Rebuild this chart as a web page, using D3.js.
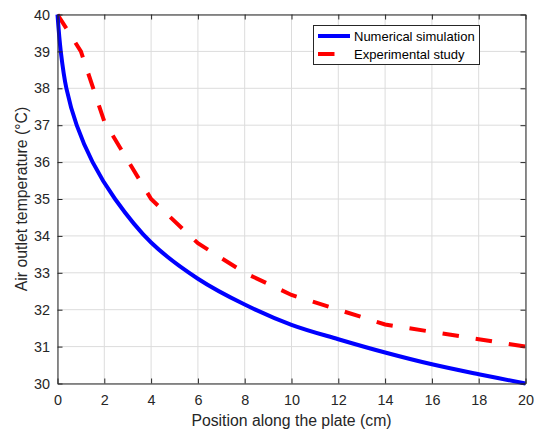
<!DOCTYPE html>
<html>
<head>
<meta charset="utf-8">
<script src="https://cdn.jsdelivr.net/npm/d3@7"></script>
<style>
    body { margin: 0; background: #fff; }
    svg { display: block; font-family: "Liberation Sans", Arial, sans-serif; }
    .griglia line { stroke: #dcdcdc; stroke-width: 1; }
    .asse path, .asse line { stroke: #262626; }
    .asse text { fill: #262626; font-size: 14.4px; }
</style>
</head>
<body>
<script>

// dati (posizione in cm, temperatura in °C)
const posizioniSimulazione = [0, 0.14, 0.38, 0.82, 1.5, 2.46, 4, 6, 8, 10, 12, 14, 16, 18, 20];
const temperatureSimulazione = [40, 39, 38, 37, 36, 35, 33.82, 32.84, 32.14, 31.59, 31.2, 30.84, 30.52, 30.25, 30.0];

const posizioniEsperimento = [0, 1, 2, 4, 6, 8, 10, 12, 14, 16, 18, 20];
const temperatureEsperimento = [40, 39, 37.1, 35, 33.8, 33.0, 32.4, 32.0, 31.6, 31.4, 31.2, 31.0];

const tickPosizione = [0, 2, 4, 6, 8, 10, 12, 14, 16, 18, 20];
const tickTemperatura = [30, 31, 32, 33, 34, 35, 36, 37, 38, 39, 40];

const nomiSerie = ["Numerical simulation", "Experimental study"];

const grafico = {
    larghezza: 537,
    altezza: 431,
    sinistra: 57.5,
    destra: 525.5,
    alto: 14.5,
    basso: 383.5
};

// unisco posizioni e temperature
let simulazione = posizioniSimulazione.map(function (x, i) {
    return { x: x, t: temperatureSimulazione[i] };
});
let esperimento = posizioniEsperimento.map(function (x, i) {
    return { x: x, t: temperatureEsperimento[i] };
});

let svg = d3.select("body")
    .append("svg")
    .attr("width", grafico.larghezza)
    .attr("height", grafico.altezza);

svg.append("rect")
    .attr("width", grafico.larghezza)
    .attr("height", grafico.altezza)
    .attr("fill", "#fff");

// scale
let scalaX = d3.scaleLinear()
    .domain([0, 20])
    .range([grafico.sinistra, grafico.destra]);

let scalaY = d3.scaleLinear()
    .domain([30, 40])
    .range([grafico.basso, grafico.alto]);

// griglia
let griglia = svg.append("g").attr("class", "griglia");

griglia.selectAll(".gx")
    .data(tickPosizione)
    .enter()
    .append("line")
    .attr("x1", function (d) { return scalaX(d) })
    .attr("x2", function (d) { return scalaX(d) })
    .attr("y1", grafico.alto)
    .attr("y2", grafico.basso);

griglia.selectAll(".gy")
    .data(tickTemperatura)
    .enter()
    .append("line")
    .attr("x1", grafico.sinistra)
    .attr("x2", grafico.destra)
    .attr("y1", function (d) { return scalaY(d) })
    .attr("y2", function (d) { return scalaY(d) });

// linee
let lineaSimulazione = d3.line()
    .x(function (d) { return scalaX(d.x) })
    .y(function (d) { return scalaY(d.t) })
    .curve(d3.curveCatmullRom.alpha(0.5));

let lineaEsperimento = d3.line()
    .x(function (d) { return scalaX(d.x) })
    .y(function (d) { return scalaY(d.t) });

svg.append("path")
    .datum(esperimento)
    .attr("fill", "none")
    .attr("stroke", "#ff0000")
    .attr("stroke-width", 4)
    .attr("stroke-dasharray", "16.5,17")
    .attr("d", lineaEsperimento);

svg.append("path")
    .datum(simulazione)
    .attr("fill", "none")
    .attr("stroke", "#0000ff")
    .attr("stroke-width", 4)
    .attr("d", lineaSimulazione);

// assi
let asseX = d3.axisBottom(scalaX)
    .tickValues(tickPosizione)
    .tickSizeInner(-5)
    .tickSizeOuter(0)
    .tickPadding(11);

let asseY = d3.axisLeft(scalaY)
    .tickValues(tickTemperatura)
    .tickSizeInner(-5)
    .tickSizeOuter(0)
    .tickPadding(7.5);

let asseSopra = d3.axisTop(scalaX)
    .tickValues(tickPosizione)
    .tickSizeInner(-5)
    .tickSizeOuter(0)
    .tickFormat("");

let asseDestra = d3.axisRight(scalaY)
    .tickValues(tickTemperatura)
    .tickSizeInner(-5)
    .tickSizeOuter(0)
    .tickFormat("");

svg.append("g")
    .attr("class", "asse")
    .attr("transform", `translate(0,${grafico.basso})`)
    .call(asseX);

svg.append("g")
    .attr("class", "asse")
    .attr("transform", `translate(${grafico.sinistra},0)`)
    .call(asseY);

svg.append("g")
    .attr("class", "asse")
    .attr("transform", `translate(0,${grafico.alto})`)
    .call(asseSopra);

svg.append("g")
    .attr("class", "asse")
    .attr("transform", `translate(${grafico.destra},0)`)
    .call(asseDestra);

svg.selectAll(".asse text").attr("font-family", null).attr("font-size", null);

// titoli degli assi
svg.append("text")
    .attr("x", (grafico.sinistra + grafico.destra) / 2)
    .attr("y", 426)
    .attr("text-anchor", "middle")
    .attr("fill", "#262626")
    .style("font-size", "15.8px")
    .text("Position along the plate (cm)");

svg.append("text")
    .attr("transform", `translate(27,${(grafico.alto + grafico.basso) / 2}) rotate(-90)`)
    .attr("text-anchor", "middle")
    .attr("fill", "#262626")
    .style("font-size", "15.8px")
    .text("Air outlet temperature (°C)");

// legenda
let legenda = svg.append("g").attr("transform", "translate(313,25)");

legenda.append("rect")
    .attr("x", 0.5)
    .attr("y", 0.5)
    .attr("width", 166)
    .attr("height", 39)
    .attr("fill", "#fff")
    .attr("stroke", "#262626")
    .attr("stroke-width", 1);

let coloriSerie = ["#0000ff", "#ff0000"];
let trattiSerie = [null, "16.5,17"];

nomiSerie.forEach(function (nome, i) {
    let yRiga = 11 + i * 18;
    legenda.append("line")
        .attr("x1", 5)
        .attr("x2", 37)
        .attr("y1", yRiga)
        .attr("y2", yRiga)
        .attr("stroke", coloriSerie[i])
        .attr("stroke-width", 4)
        .attr("stroke-dasharray", trattiSerie[i]);
    legenda.append("text")
        .attr("x", 41)
        .attr("y", yRiga + 4.6)
        .attr("fill", "#000")
        .style("font-size", "13px")
        .text(nome);
});

</script>
</body>
</html>
